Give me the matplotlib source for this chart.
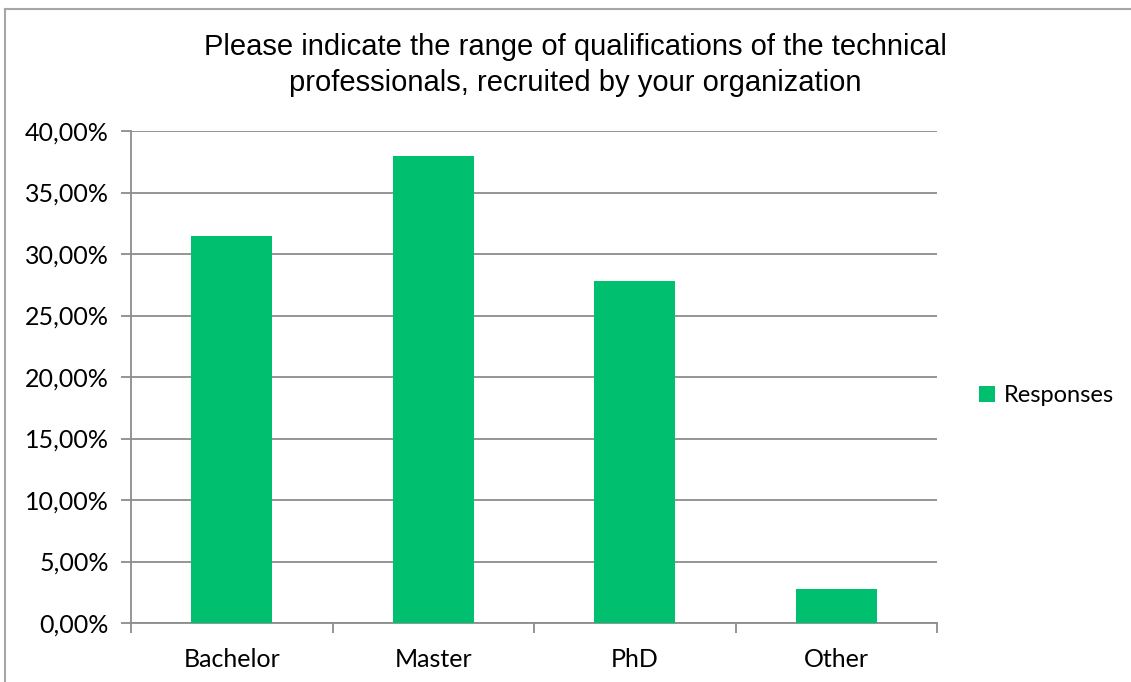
import matplotlib
matplotlib.use("Agg")
import matplotlib.pyplot as plt
from matplotlib.lines import Line2D
from matplotlib.ticker import FuncFormatter, FixedLocator
from matplotlib.patches import Patch

# Data
categories = ["Bachelor", "Master", "PhD", "Other"]
responses = [31.5, 38.0, 27.78, 2.78]
series_name = "Responses"
title = "Please indicate the range of qualifications of the technical\nprofessionals, recruited by your organization"

green = "#00bf6f"
grid_col = "#8c8c8c"
tick_font = "Lato"

fig = plt.figure(figsize=(11.31, 6.82), dpi=100)
W, H = 1131, 682
ax = fig.add_axes([131 / W, (H - 623) / H, (937 - 131) / W, (623 - 131) / H])

x = list(range(len(categories)))
ax.bar(x, responses, width=0.4, color=green, zorder=3)

ax.set_xlim(-0.5, len(categories) - 0.5)
ax.set_ylim(0, 40)
ax.set_yticks(range(0, 41, 5))
ax.yaxis.set_major_formatter(FuncFormatter(lambda v, p: ("%.2f%%" % v).replace(".", ",")))
ax.grid(axis="y", color=grid_col, linewidth=1.3, zorder=0)

ax.set_xticks(x)
ax.set_xticklabels(categories)
ax.xaxis.set_minor_locator(FixedLocator([i - 0.5 for i in range(len(categories) + 1)]))
ax.tick_params(axis="x", which="major", length=0, pad=18, labelsize=18)
ax.tick_params(axis="x", which="minor", length=7, width=1.3, color=grid_col)
ax.tick_params(axis="y", length=7, width=1.3, color=grid_col, labelsize=18, pad=9)
for lab in ax.get_xticklabels() + ax.get_yticklabels():
    lab.set_fontfamily(tick_font)

for s in ["top", "right"]:
    ax.spines[s].set_visible(False)
for s in ["left", "bottom"]:
    ax.spines[s].set_color(grid_col)
    ax.spines[s].set_linewidth(1.3)

fig.text(575 / W, 1 - 65 / H, title, ha="center", va="center", fontsize=21,
         fontfamily="Liberation Sans", linespacing=1.4)

handle = [Patch(facecolor=green, label=series_name)]
fig.legend(handles=handle, loc="center left", bbox_to_anchor=(958 / W, 1 - 396 / H),
           frameon=False, prop={"family": tick_font, "size": 17},
           handlelength=0.65, handleheight=0.65, handletextpad=0.4)

# chart frame
fig.add_artist(Line2D([5 / W, 5 / W], [0, 1 - 9 / H], transform=fig.transFigure,
                      color="#a6a6a6", linewidth=1.5))
fig.add_artist(Line2D([5 / W, 1], [1 - 9 / H, 1 - 9 / H], transform=fig.transFigure,
                      color="#a6a6a6", linewidth=1.5))

fig.savefig("out.png", dpi=100)
